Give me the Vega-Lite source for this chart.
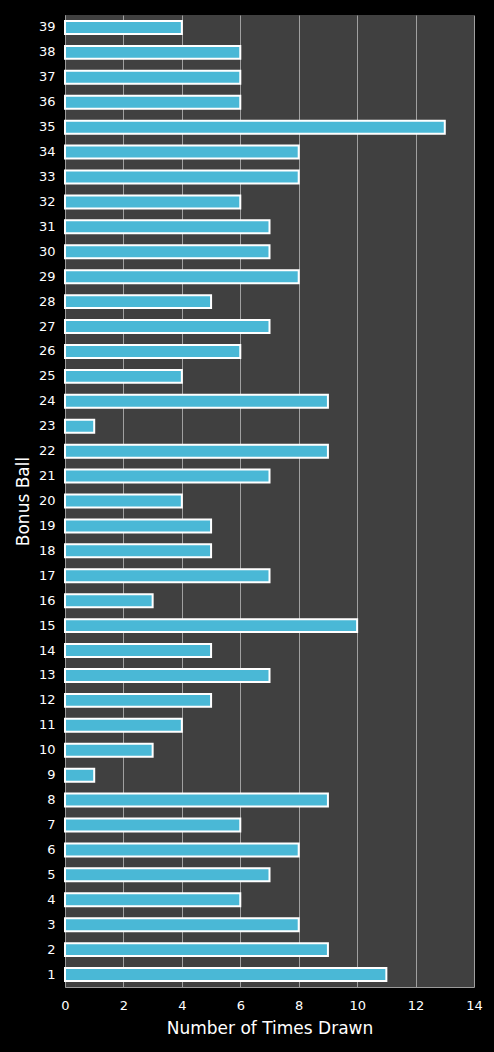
{
  "$schema": "https://vega.github.io/schema/vega-lite/v6.json",
  "autosize": "none",
  "padding": {"left": 65, "top": 15, "right": 20, "bottom": 65},
  "width": 409,
  "height": 972,
  "background": "#000000",
  "config": {
    "view": {"fill": "#404040", "stroke": null},
    "font": "DejaVu Sans"
  },
  "data": {
    "values": [
      {"ball": "39", "count": 4}, {"ball": "38", "count": 6}, {"ball": "37", "count": 6},
      {"ball": "36", "count": 6}, {"ball": "35", "count": 13}, {"ball": "34", "count": 8},
      {"ball": "33", "count": 8}, {"ball": "32", "count": 6}, {"ball": "31", "count": 7},
      {"ball": "30", "count": 7}, {"ball": "29", "count": 8}, {"ball": "28", "count": 5},
      {"ball": "27", "count": 7}, {"ball": "26", "count": 6}, {"ball": "25", "count": 4},
      {"ball": "24", "count": 9}, {"ball": "23", "count": 1}, {"ball": "22", "count": 9},
      {"ball": "21", "count": 7}, {"ball": "20", "count": 4}, {"ball": "19", "count": 5},
      {"ball": "18", "count": 5}, {"ball": "17", "count": 7}, {"ball": "16", "count": 3},
      {"ball": "15", "count": 10}, {"ball": "14", "count": 5}, {"ball": "13", "count": 7},
      {"ball": "12", "count": 5}, {"ball": "11", "count": 4}, {"ball": "10", "count": 3},
      {"ball": "9", "count": 1}, {"ball": "8", "count": 9}, {"ball": "7", "count": 6},
      {"ball": "6", "count": 8}, {"ball": "5", "count": 7}, {"ball": "4", "count": 6},
      {"ball": "3", "count": 8}, {"ball": "2", "count": 9}, {"ball": "1", "count": 11}
    ]
  },
  "mark": {"type": "bar", "fill": "#4ab8d6", "stroke": "#ffffff", "strokeWidth": 2},
  "encoding": {
    "y": {
      "field": "ball",
      "type": "ordinal",
      "scale": {"domain": ["39","38","37","36","35","34","33","32","31","30","29","28","27","26","25","24","23","22","21","20","19","18","17","16","15","14","13","12","11","10","9","8","7","6","5","4","3","2","1"], "paddingInner": 0.48, "paddingOuter": 0.24},
      "axis": {
        "title": "Bonus Ball",
        "titleColor": "#ffffff",
        "titleFontSize": 17,
        "titleFontWeight": "normal",
        "titlePadding": 6,
        "labelColor": "#ffffff",
        "labelFontSize": 13,
        "labelPadding": 10,
        "ticks": false,
        "domain": true,
        "domainColor": "#9a9a9a",
        "labelAngle": 0
      }
    },
    "x": {
      "field": "count",
      "type": "quantitative",
      "scale": {"domain": [0, 14]},
      "axis": {
        "title": "Number of Times Drawn",
        "titleColor": "#ffffff",
        "titleFontSize": 17,
        "titleFontWeight": "normal",
        "titlePadding": 8,
        "labelColor": "#ffffff",
        "labelFontSize": 13,
        "labelPadding": 12,
        "labelFlush": false,
        "values": [0, 2, 4, 6, 8, 10, 12, 14],
        "ticks": false,
        "grid": true,
        "gridColor": "#a0a0a0",
        "gridWidth": 1,
        "domainColor": "#9a9a9a"
      }
    }
  }
}
